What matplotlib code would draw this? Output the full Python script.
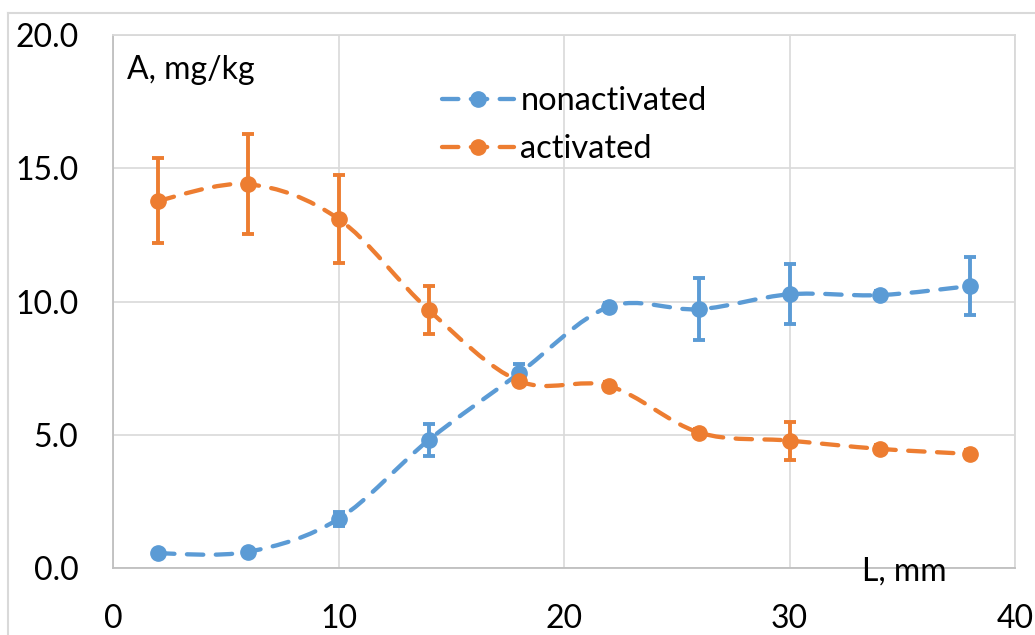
import numpy as np
import matplotlib
matplotlib.use("Agg")
import matplotlib.pyplot as plt
from matplotlib.path import Path
from matplotlib.patches import PathPatch
from matplotlib.lines import Line2D

plt.rcParams['font.family'] = ['Lato', 'DejaVu Sans']

L_mm = [2, 6, 10, 14, 18, 22, 26, 30, 34, 38]
nonactivated = [0.55, 0.61, 1.84, 4.80, 7.30, 9.80, 9.71, 10.27, 10.24, 10.58]
nonactivated_err = [0.05, 0.05, 0.25, 0.60, 0.35, 0.15, 1.16, 1.13, 0.15, 1.08]
activated = [13.78, 14.40, 13.10, 9.68, 7.02, 6.83, 5.08, 4.78, 4.47, 4.28]
activated_err = [1.60, 1.87, 1.66, 0.90, 0.12, 0.15, 0.15, 0.71, 0.15, 0.15]
series_names = ["nonactivated", "activated"]
x_ticks = [0, 10, 20, 30, 40]
y_ticks = [0, 5, 10, 15, 20]

BLUE = "#5B9BD5"
ORANGE = "#ED7D31"
GRID = "#D9D9D9"

W, H = 1035, 635
fig = plt.figure(figsize=(W / 100, H / 100), dpi=100)
ax = fig.add_axes([113 / W, 1 - 568 / H, (1015 - 113) / W, (568 - 35) / H])


def smooth_path(x, y):
    x = np.asarray(x, float)
    y = np.asarray(y, float)
    n = len(x)
    verts = [(x[0], y[0])]
    codes = [Path.MOVETO]
    for i in range(n - 1):
        p0 = np.array([x[max(i - 1, 0)], y[max(i - 1, 0)]])
        p1 = np.array([x[i], y[i]])
        p2 = np.array([x[i + 1], y[i + 1]])
        p3 = np.array([x[min(i + 2, n - 1)], y[min(i + 2, n - 1)]])
        c1 = p1 + (p2 - p0) / 6.0
        c2 = p2 - (p3 - p1) / 6.0
        verts += [tuple(c1), tuple(c2), tuple(p2)]
        codes += [Path.CURVE4] * 3
    return Path(verts, codes)


lw = 3.1
dash = (3.8, 2.9)
for ys, es, col in [(nonactivated, nonactivated_err, BLUE), (activated, activated_err, ORANGE)]:
    patch = PathPatch(smooth_path(L_mm, ys), fill=False, edgecolor=col, lw=lw,
                      linestyle=(0, dash), capstyle='round', zorder=3)
    ax.add_patch(patch)
    ax.errorbar(L_mm, ys, yerr=es, fmt='o', color=col, ms=11, elinewidth=2.8,
                capsize=4.6, capthick=2.8, zorder=4)

ax.set_xlim(0, 40)
ax.set_ylim(0, 20)
ax.set_xticks(x_ticks)
ax.set_yticks(y_ticks)
ax.set_xticklabels([str(v) for v in x_ticks])
ax.set_yticklabels([f"{v:.1f}" for v in y_ticks])
ax.tick_params(axis='both', length=0, labelsize=23, colors='black')
ax.tick_params(axis='y', pad=25)
ax.tick_params(axis='x', pad=26)
ax.grid(True, color=GRID, lw=1.2)
ax.set_axisbelow(True)
for s in ax.spines.values():
    s.set_color(GRID)
    s.set_linewidth(1.3)
ax.spines['bottom'].set_color("#BFBFBF")
ax.spines['left'].set_color("#BFBFBF")

ax.text(0.62, 18.69, "A, mg/kg", fontsize=23, ha='left', va='center')
ax.text(33.2, -0.12, "L, mm", fontsize=23, ha='left', va='center', clip_on=False)

handles = [Line2D([], [], color=c, lw=lw, linestyle=(0, dash), marker='o', ms=11,
                  dash_capstyle='round') for c in (BLUE, ORANGE)]
leg = ax.legend(handles, series_names, loc='center left', fontsize=23.5, frameon=False,
                bbox_to_anchor=(442 / W, 1 - 125 / H), bbox_transform=fig.transFigure,
                handlelength=2.2, handletextpad=0.2, labelspacing=0.55, borderpad=0,
                borderaxespad=0, numpoints=1)

# outer chart border
fig.add_artist(Line2D([8 / W, 8 / W], [0, 1 - 13 / H], transform=fig.transFigure, color=GRID, lw=1.5))
fig.add_artist(Line2D([8 / W, 1], [1 - 13 / H, 1 - 13 / H], transform=fig.transFigure, color=GRID, lw=1.5))

fig.savefig("out.png", dpi=100)
